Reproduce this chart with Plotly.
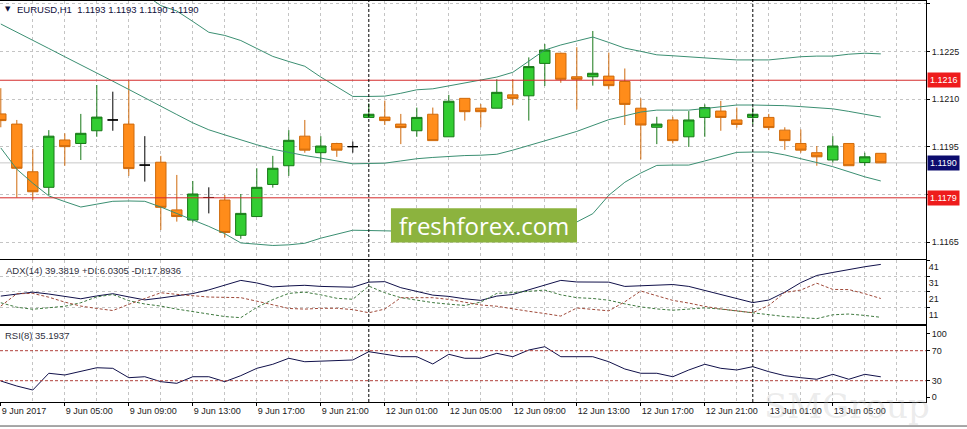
import plotly.graph_objects as go
from plotly.subplots import make_subplots

# EURUSD H1, bars from 9 Jun 01:00 to 13 Jun 08:00 (x = bar number, weekend skipped)
bar_open = [1.12054, 1.12022, 1.11872, 1.11823, 1.11972, 1.11961, 1.12001, 1.12035,
            1.12022, 1.11893, 1.11902, 1.11752, 1.11720, 1.11791, 1.11783, 1.11672,
            1.11731, 1.11832, 1.11891, 1.11984, 1.11932, 1.11961, 1.11951, 1.12043,
            1.12044, 1.12022, 1.12001, 1.12053, 1.11982, 1.12103, 1.12072, 1.12072,
            1.12114, 1.12111, 1.12213, 1.12245, 1.12171, 1.12171, 1.12173, 1.12156,
            1.12072, 1.12012, 1.12035, 1.11982, 1.12043, 1.12063, 1.12035, 1.12043,
            1.12043, 1.12003, 1.11961, 1.11932, 1.11909, 1.11961, 1.11901, 1.11930]
bar_high = [1.12135, 1.12035, 1.11944, 1.12003, 1.11993, 1.12054, 1.12145, 1.12124,
            1.12158, 1.11984, 1.11922, 1.11862, 1.11843, 1.11823, 1.11799, 1.11802,
            1.11883, 1.11922, 1.12003, 1.12035, 1.11984, 1.11963, 1.11967, 1.12087,
            1.12096, 1.12054, 1.12074, 1.12074, 1.12114, 1.12103, 1.12085, 1.12163,
            1.12163, 1.12232, 1.12274, 1.12247, 1.12264, 1.12315, 1.12247, 1.12197,
            1.12103, 1.12045, 1.12045, 1.12063, 1.12084, 1.12095, 1.12074, 1.12074,
            1.12054, 1.12012, 1.12005, 1.11953, 1.11984, 1.11961, 1.11932, 1.11930]
bar_low = [1.12012, 1.11791, 1.11783, 1.11799, 1.11891, 1.11909, 1.11982, 1.12001,
           1.11859, 1.11841, 1.11689, 1.11715, 1.11712, 1.11741, 1.11665, 1.11661,
           1.11731, 1.11822, 1.11859, 1.11932, 1.11901, 1.11919, 1.11932, 1.12043,
           1.12019, 1.11959, 1.11982, 1.11970, 1.11982, 1.12033, 1.12012, 1.12072,
           1.12082, 1.12033, 1.12142, 1.12152, 1.12068, 1.12143, 1.12131, 1.12019,
           1.11911, 1.11959, 1.11961, 1.11950, 1.11982, 1.12001, 1.12011, 1.12022,
           1.12003, 1.11941, 1.11932, 1.11891, 1.11901, 1.11891, 1.11891, 1.11900]
bar_close = [1.12033, 1.11883, 1.11809, 1.11984, 1.11951, 1.11993, 1.12044, 1.12035,
             1.11882, 1.11893, 1.11760, 1.11731, 1.11802, 1.11791, 1.11681, 1.11741,
             1.11823, 1.11883, 1.11971, 1.11940, 1.11953, 1.11940, 1.11951, 1.12053,
             1.12033, 1.12011, 1.12043, 1.11970, 1.12094, 1.12061, 1.12061, 1.12122,
             1.12103, 1.12203, 1.12255, 1.12163, 1.12163, 1.12182, 1.12143, 1.12084,
             1.12019, 1.12022, 1.11970, 1.12035, 1.12074, 1.12043, 1.12021, 1.12053,
             1.12011, 1.11970, 1.11940, 1.11919, 1.11953, 1.11891, 1.11919, 1.11900]

# Bollinger bands
bb_upper = [1.12727, 1.12743, 1.12736, 1.12725, 1.12691, 1.12657, 1.12596, 1.12535,
            1.12482, 1.12430, 1.12395, 1.12378, 1.12345, 1.12311, 1.12301, 1.12285,
            1.12260, 1.12235, 1.12219, 1.12204, 1.12170, 1.12139, 1.12109, 1.12109,
            1.12110, 1.12119, 1.12130, 1.12133, 1.12142, 1.12152, 1.12161, 1.12170,
            1.12185, 1.12220, 1.12255, 1.12271, 1.12283, 1.12296, 1.12279, 1.12261,
            1.12251, 1.12240, 1.12237, 1.12233, 1.12230, 1.12227, 1.12224, 1.12224,
            1.12224, 1.12229, 1.12234, 1.12236, 1.12236, 1.12242, 1.12245, 1.12243]
bb_middle = [1.12337, 1.12312, 1.12286, 1.12260, 1.12234, 1.12209, 1.12183, 1.12157,
             1.12131, 1.12104, 1.12078, 1.12052, 1.12026, 1.12004, 1.11988, 1.11972,
             1.11957, 1.11943, 1.11932, 1.11923, 1.11915, 1.11906, 1.11897, 1.11898,
             1.11899, 1.11906, 1.11913, 1.11917, 1.11921, 1.11923, 1.11924, 1.11927,
             1.11940, 1.11954, 1.11969, 1.11984, 1.11999, 1.12018, 1.12036, 1.12048,
             1.12060, 1.12066, 1.12066, 1.12066, 1.12071, 1.12076, 1.12082, 1.12082,
             1.12082, 1.12080, 1.12077, 1.12074, 1.12070, 1.12062, 1.12053, 1.12044]
bb_lower = [1.11947, 1.11880, 1.11836, 1.11796, 1.11778, 1.11761, 1.11770, 1.11779,
            1.11780, 1.11779, 1.11761, 1.11741, 1.11721, 1.11700, 1.11677, 1.11648,
            1.11644, 1.11640, 1.11642, 1.11647, 1.11663, 1.11676, 1.11688, 1.11687,
            1.11686, 1.11685, 1.11689, 1.11689, 1.11689, 1.11685, 1.11682, 1.11682,
            1.11682, 1.11685, 1.11692, 1.11701, 1.11714, 1.11740, 1.11798, 1.11839,
            1.11868, 1.11892, 1.11893, 1.11893, 1.11906, 1.11919, 1.11933, 1.11934,
            1.11934, 1.11925, 1.11914, 1.11901, 1.11888, 1.11871, 1.11856, 1.11843]

# ADX(14)
adx = [19.4, 20.8, 21.9, 20.7, 19.2, 17.7, 19.5, 20.9, 18.9, 17.0, 18.2, 19.8, 21.0, 23.3,
       26.3, 29.3, 27.7, 25.2, 25.8, 26.2, 25.5, 25.1, 25.0, 28.2, 28.5, 24.7, 22.2, 20.0,
       19.2, 17.7, 16.7, 19.4, 20.4, 23.5, 26.5, 29.3, 28.3, 28.2, 28.2, 25.5, 26.0, 26.5,
       26.7, 25.5, 23.0, 20.4, 17.9, 15.3, 16.9, 21.9, 27.9, 32.4, 34.3, 36.3, 37.9, 39.38]
plus_di = [15.2, 12.4, 11.1, 11.9, 13.0, 15.2, 18.9, 20.4, 16.5, 14.4, 13.1, 11.2, 9.5, 7.8,
           6.5, 5.8, 12.3, 17.2, 21.1, 21.9, 20.2, 18.0, 17.4, 25.7, 21.5, 18.4, 16.8, 15.3,
           14.3, 13.5, 15.6, 21.1, 21.6, 22.3, 23.2, 20.2, 18.4, 17.9, 16.8, 14.5, 12.6, 11.3,
           10.5, 11.2, 12.0, 11.2, 10.0, 8.6, 7.4, 6.5, 5.9, 5.2, 7.6, 8.1, 7.2, 6.03]
minus_di = [13.1, 20.9, 21.1, 18.7, 15.6, 13.1, 11.6, 10.3, 14.2, 17.8, 21.5, 20.5, 19.5, 18.8,
            18.6, 18.4, 16.2, 13.8, 11.6, 11.2, 11.7, 11.7, 10.9, 8.9, 11.2, 18.4, 18.4, 18.4,
            17.3, 15.6, 13.8, 13.0, 11.2, 9.8, 8.4, 6.8, 11.9, 11.1, 10.1, 15.8, 22.6, 19.6,
            16.7, 15.0, 12.9, 11.3, 10.2, 8.9, 13.5, 21.7, 23.2, 27.5, 23.6, 23.5, 20.9, 17.89]

# RSI(8)
rsi = [29.6, 22.9, 17.6, 39.9, 37.6, 42.0, 47.3, 46.5, 34.0, 35.3, 28.7, 26.5, 35.3, 35.3,
       28.7, 36.7, 46.5, 51.9, 59.9, 55.3, 56.3, 56.3, 57.6, 68.7, 65.2, 62.0, 62.0, 52.3,
       65.2, 59.9, 59.9, 66.5, 62.0, 70.9, 75.3, 62.0, 62.0, 62.0, 55.3, 45.6, 39.9, 39.9,
       35.3, 44.3, 51.9, 46.5, 44.3, 48.7, 42.0, 36.7, 34.0, 31.9, 38.5, 31.9, 38.5, 35.19]

time_ticks = [0, 4, 8, 12, 16, 20, 24, 28, 32, 36, 40, 44, 48, 52]
time_labels = ["9 Jun 2017", "9 Jun 05:00", "9 Jun 09:00", "9 Jun 13:00", "9 Jun 17:00",
               "9 Jun 21:00", "12 Jun 01:00", "12 Jun 05:00", "12 Jun 09:00", "12 Jun 13:00",
               "12 Jun 17:00", "12 Jun 21:00", "13 Jun 01:00", "13 Jun 05:00"]
day_starts = [23, 47]
price_ticks = [1.1165, 1.1180, 1.1195, 1.1210, 1.1225, 1.1240]
price_labels = ["1.1165", "", "1.1195", "1.1210", "1.1225", "1.1240"]  # 1.1180 sits under the level tag
levels = [1.1216, 1.1179]
last_price = 1.1190
adx_ticks = [42, 32, 22, 12]
adx_labels = ["41", "31", "21", "11"]
rsi_levels = [70, 30]
rsi_ticks = [92.5, 70, 30, 8]
rsi_labels = ["100", "70", "30", "0"]

FONT = "Liberation Sans, Arial, sans-serif"
GRID = "#c4c4c4"
BAND = "#3b8f72"

x = list(range(len(bar_open)))
body = [i for i in x if bar_open[i] != bar_close[i]]
doji = [i for i in x if bar_open[i] == bar_close[i]]

fig = make_subplots(rows=3, cols=1, shared_xaxes=True)

for band in (bb_upper, bb_middle, bb_lower):
    fig.add_trace(go.Scatter(x=x, y=band, mode="lines",
                             line=dict(color=BAND, width=1)), row=1, col=1)

fig.add_trace(go.Candlestick(
    x=body,
    open=[bar_open[i] for i in body], high=[bar_high[i] for i in body],
    low=[bar_low[i] for i in body], close=[bar_close[i] for i in body],
    increasing=dict(line=dict(color="#187818", width=1), fillcolor="#32cd32"),
    decreasing=dict(line=dict(color="#cf6a0c", width=1), fillcolor="#ff8c1a"),
), row=1, col=1)
fig.add_trace(go.Candlestick(
    x=doji,
    open=[bar_open[i] for i in doji], high=[bar_high[i] for i in doji],
    low=[bar_low[i] for i in doji], close=[bar_close[i] for i in doji],
    increasing=dict(line=dict(color="black", width=1), fillcolor="black"),
    decreasing=dict(line=dict(color="black", width=1), fillcolor="black"),
), row=1, col=1)

fig.add_trace(go.Scatter(x=x, y=adx, mode="lines", line=dict(color="#10104a", width=1)), row=2, col=1)
fig.add_trace(go.Scatter(x=x, y=plus_di, mode="lines",
                         line=dict(color="#3f7a3f", width=1, dash="3px,2px")), row=2, col=1)
fig.add_trace(go.Scatter(x=x, y=minus_di, mode="lines",
                         line=dict(color="#a04a3a", width=1, dash="3px,2px")), row=2, col=1)

fig.add_trace(go.Scatter(x=x, y=rsi, mode="lines", line=dict(color="#10104a", width=1)), row=3, col=1)

# price levels
for lv in levels:
    fig.add_shape(type="line", xref="paper", x0=0, x1=1, yref="y", y0=lv, y1=lv,
                  line=dict(color="#d42a2a", width=1))
    fig.add_annotation(xref="paper", x=1, xanchor="left", xshift=1, yref="y", y=lv,
                       yanchor="middle", text=f"{lv:.4f}", showarrow=False,
                       bgcolor="#ee1c1c", borderpad=2,
                       font=dict(family=FONT, size=9, color="white"))
fig.add_shape(type="line", xref="paper", x0=0, x1=1, yref="y", y0=last_price, y1=last_price,
              line=dict(color="#c8c8c8", width=1), layer="below")
fig.add_annotation(xref="paper", x=1, xanchor="left", xshift=1, yref="y", y=last_price,
                   yanchor="middle", text=f"{last_price:.4f}", showarrow=False,
                   bgcolor="#0c0c6e", borderpad=2,
                   font=dict(family=FONT, size=9, color="white"))

for lv in rsi_levels:
    fig.add_shape(type="line", xref="paper", x0=0, x1=1, yref="y3", y0=lv, y1=lv,
                  line=dict(color="#b0403a", width=1, dash="3px,2px"))

# day separators
for d in day_starts:
    fig.add_shape(type="line", xref="x", x0=d, x1=d, yref="paper", y0=0, y1=1,
                  line=dict(color="black", width=1, dash="3px,2px"))

# headers
hdr = dict(xref="paper", yref="paper", xanchor="left", yanchor="middle", showarrow=False)
fig.add_annotation(x=0.0035, y=0.980, text="▼",
                   font=dict(family="DejaVu Sans", size=7, color="#10103c"), **hdr)
fig.add_annotation(x=0.016, y=0.980, text="EURUSD,H1  1.1193 1.1193 1.1190 1.1190",
                   font=dict(family=FONT, size=9.5, color="#10103c"), **hdr)
fig.add_annotation(x=0.004, y=0.329, text="ADX(14) 39.3819 +DI:6.0305 -DI:17.8936",
                   font=dict(family=FONT, size=9.5, color="#303040"), **hdr)
fig.add_annotation(x=0.003, y=0.165, text="RSI(8) 35.1937",
                   font=dict(family=FONT, size=9.5, color="#303040"), **hdr)

# watermarks
fig.add_shape(type="rect", xref="paper", yref="paper", x0=0.4222, x1=0.6231, y0=0.3978, y1=0.4830,
              fillcolor="#8cb33e", line=dict(width=0), layer="above")
fig.add_annotation(xref="paper", yref="paper", x=0.5227, y=0.4404, xanchor="center",
                   yanchor="middle", showarrow=False, text="freshforex.com",
                   font=dict(family="Open Sans", size=24, color="white"))
fig.add_annotation(xref="paper", yref="paper", x=0.9147, y=-0.01, xanchor="center",
                   yanchor="middle", showarrow=False, text="SMGroup",
                   font=dict(family="DejaVu Serif", size=34, color="rgba(190,190,190,0.3)"))
fig.add_shape(type="line", xref="paper", yref="paper", x0=0, x1=1.05, y0=-0.0599, y1=-0.0599,
              line=dict(color="#505050", width=1))

xcommon = dict(range=[-0.05, 57.825], showgrid=True, gridcolor=GRID, griddash="3px,3px",
               gridwidth=1, tickvals=time_ticks, showline=True, mirror=True,
               linecolor="black", linewidth=1, zeroline=False, rangeslider_visible=False,
               minor=dict(tickvals=list(range(0, 58, 2)), showgrid=True, gridcolor=GRID,
                          griddash="3px,3px", ticks=""))
fig.update_xaxes(**xcommon)
fig.update_xaxes(showticklabels=False, ticks="", row=1, col=1)
fig.update_xaxes(showticklabels=False, ticks="", row=2, col=1)
fig.update_xaxes(ticktext=time_labels, ticks="outside", ticklen=3, tickcolor="black",
                 ticklabelposition="outside right", showticklabels=True,
                 tickfont=dict(family=FONT, size=9, color="#202020"), row=3, col=1)

ycommon = dict(side="right", showline=True, linecolor="black", linewidth=1, ticks="outside",
               ticklen=3, tickcolor="black", zeroline=False, gridcolor=GRID,
               griddash="3px,3px", tickfont=dict(family=FONT, size=9, color="#202020"))
fig.update_yaxes(**ycommon)
fig.update_yaxes(range=[1.115974, 1.124094], tickvals=price_ticks, ticktext=price_labels,
                 showgrid=True, domain=[0.3566, 1.0], row=1, col=1)
fig.update_yaxes(range=[1.8, 42.15], tickvals=adx_ticks, ticktext=adx_labels,
                 ticklabelposition="outside bottom", showgrid=True,
                 domain=[0.1945, 0.3541], row=2, col=1)
fig.update_yaxes(range=[1.6, 102.9], tickvals=rsi_ticks, ticktext=rsi_labels,
                 showgrid=False, domain=[0.0, 0.1895], row=3, col=1)

fig.update_layout(width=967, height=429, margin=dict(l=0, r=41, t=1, b=27),
                  paper_bgcolor="white", plot_bgcolor="white", showlegend=False,
                  boxgap=0.35, boxgroupgap=0, hovermode=False)

# drop the page's default body margin so the chart sits at the window's corner
fig.write_html("out.html", config={"displayModeBar": False},
               post_script="document.body.style.margin='0';")
